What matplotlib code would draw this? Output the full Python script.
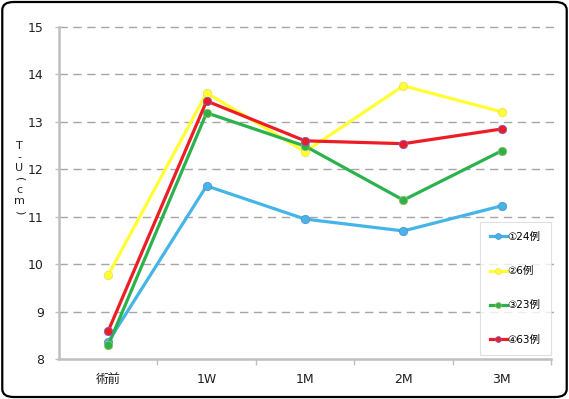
import numpy as np
import matplotlib
matplotlib.use("Agg")
import matplotlib.pyplot as plt
from matplotlib.patches import FancyBboxPatch

plt.rcParams['font.family'] = ['DejaVu Sans', 'Noto Sans CJK JP']

categories = ["術前", "1W", "1M", "2M", "3M"]
series_labels = ["①24例", "②6例", "③23例", "④63例"]
blue_vals = [8.36, 11.65, 10.95, 10.70, 11.23]
yellow_vals = [9.77, 13.61, 12.37, 13.76, 13.21]
green_vals = [8.29, 13.19, 12.49, 11.35, 12.39]
red_vals = [8.59, 13.44, 12.60, 12.54, 12.85]
ylabel_chars = ["T", "-", "U", "(", "c", "m", ")"]

COLORS = ["#45B5E8", "#FFFF33", "#2BB24C", "#EE1C25"]
EDGES = ["#5E8FD0", "#E8E060", "#9BBB59", "#7E60C0"]

fig = plt.figure(figsize=(5.69, 3.99), dpi=100)
fig.patches.append(FancyBboxPatch((0.004, 0.005), 0.992, 0.99,
                                  boxstyle="round,pad=0,rounding_size=0.02",
                                  transform=fig.transFigure, facecolor="white",
                                  edgecolor="black", linewidth=1.6, zorder=-1))
ax = fig.add_axes([0.1037, 0.1003, 0.8647, 0.832])
ax.set_facecolor("none")

x = np.arange(len(categories))
all_vals = [blue_vals, yellow_vals, green_vals, red_vals]
for vals, lab, c, ec in zip(all_vals, series_labels, COLORS, EDGES):
    ax.plot(x, vals, color=c, linewidth=2.3, marker="o", markersize=6,
            markerfacecolor=c, markeredgecolor=ec, markeredgewidth=0.6,
            label=lab, zorder=3)

ax.set_xlim(-0.5, len(categories) - 0.5)
ax.set_ylim(8, 15)
ax.set_yticks(range(8, 16))
ax.set_xticks(x)
ax.set_xticklabels(categories)
ax.set_xticks(np.arange(0.5, len(categories), 1.0), minor=True)
ax.tick_params(axis="x", which="major", length=0, pad=10, labelsize=9,
               colors="#202020")
ax.tick_params(axis="x", which="minor", length=4, color="#bfbfbf", width=1)
ax.tick_params(axis="y", length=3, color="#bfbfbf", width=1, labelsize=9,
               labelcolor="#202020", pad=8)

for yv in range(9, 16):
    ax.axhline(yv, color="#a6a6a6", linewidth=1, linestyle=(0, (6, 4)),
               zorder=1, xmax=1.008, clip_on=False)

for side in ("top", "right"):
    ax.spines[side].set_visible(False)
for side in ("left", "bottom"):
    ax.spines[side].set_color("#bfbfbf")
    ax.spines[side].set_linewidth(1.8)

# vertical (stacked) y-axis title, parentheses turned sideways
y0 = 1 - 146 / 399
step = 11 / 399
for i, ch in enumerate(ylabel_chars):
    rot = -90 if ch in "()" else 0
    fig.text(0.034, y0 - i * step, ch, ha="center", va="center",
             fontsize=8, rotation=rot, color="#202020")

leg = ax.legend(loc="lower right", bbox_to_anchor=(1.0, 4 / 332),
                fontsize=7.5, labelspacing=2.32,
                handlelength=1.6, handletextpad=0.1, borderpad=1.0,
                borderaxespad=0, frameon=True, fancybox=False, markerscale=0.7)
leg.get_frame().set_edgecolor("#d9d9d9")
leg.get_frame().set_linewidth(0.8)
for line in leg.get_lines():
    line.set_linewidth(2.3)

fig.savefig("out.png", dpi=100)
